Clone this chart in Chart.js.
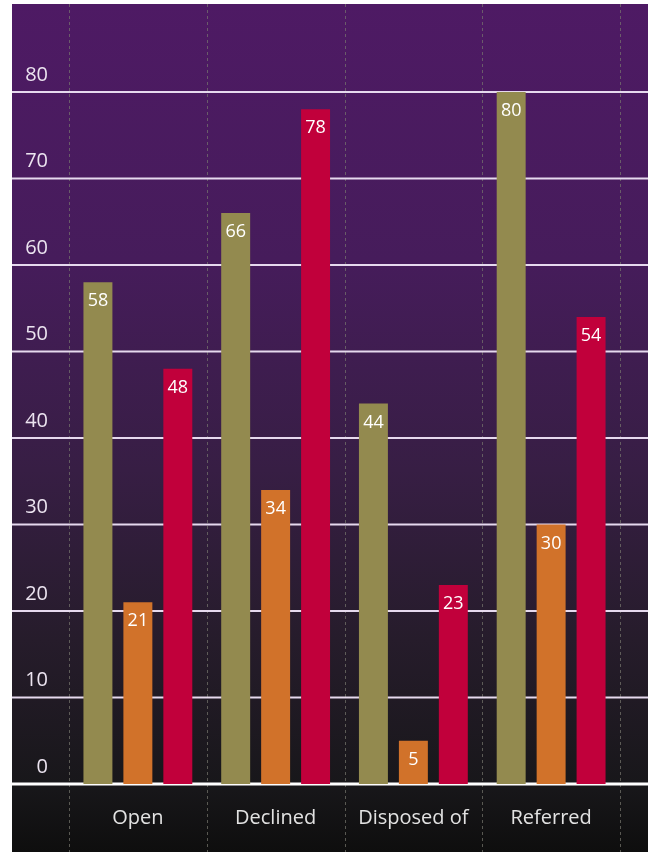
<!DOCTYPE html>
<html>
<head>
<meta charset="utf-8">
<script src="https://cdn.jsdelivr.net/npm/chart.js@4.4.1/dist/chart.umd.min.js"></script>
<style>
  html, body { margin:0; padding:0; background:#fff; }
  #chart { display:block; }
</style>
</head>
<body>
<canvas id="chart" width="652" height="852"></canvas>
<script>
document.addEventListener('DOMContentLoaded', () => {

  // ----- DATA -----
  const categories = ['Open', 'Declined', 'Disposed of', 'Referred'];
  const seriesA = [58, 66, 44, 80];
  const seriesB = [21, 34, 5, 30];
  const seriesC = [48, 78, 23, 54];
  const yTicks = [0, 10, 20, 30, 40, 50, 60, 70, 80];

  const colors = ['#938a4f', '#d1722a', '#c1003b'];
  const FONT = '"Open Sans", "Noto Sans", sans-serif';

  // ----- BACKGROUND + GRID -----
  const backdrop = {
    id: 'backdrop',
    beforeDraw(chart) {
      const ctx = chart.ctx;
      const g = ctx.createLinearGradient(0, 4, 0, 852);
      g.addColorStop(0, '#4e1a64');
      g.addColorStop(0.3, '#461c5b');
      g.addColorStop(0.55, '#371e44');
      g.addColorStop(0.75, '#261c2b');
      g.addColorStop(0.92, '#18171a');
      g.addColorStop(1, '#0e0e0e');
      ctx.save();
      ctx.fillStyle = g;
      ctx.fillRect(12, 4, 636, 848);
      ctx.restore();
    },
    beforeDatasetsDraw(chart) {
      const ctx = chart.ctx;
      const x = chart.scales.x, y = chart.scales.y;
      ctx.save();
      // vertical dotted separators
      const step = x.getPixelForValue(1) - x.getPixelForValue(0);
      ctx.strokeStyle = 'rgba(120,120,110,0.7)';
      ctx.lineWidth = 1;
      ctx.setLineDash([3, 3]);
      for (let i = 0; i <= categories.length; i++) {
        const px = Math.round(x.getPixelForValue(0) - step / 2 + i * step) + 0.5;
        ctx.beginPath();
        ctx.moveTo(px, 4);
        ctx.lineTo(px, 852);
        ctx.stroke();
      }
      ctx.setLineDash([]);
      // horizontal grid lines
      yTicks.forEach(v => {
        const py = y.getPixelForValue(v);
        ctx.strokeStyle = v === 0 ? '#ffffff' : '#e6d9ee';
        ctx.lineWidth = v === 0 ? 3 : 2;
        ctx.beginPath();
        ctx.moveTo(12, py);
        ctx.lineTo(648, py);
        ctx.stroke();
      });
      ctx.restore();
    },
    afterDatasetsDraw(chart) {
      const ctx = chart.ctx;
      ctx.save();
      ctx.fillStyle = '#ffffff';
      ctx.font = '18px ' + FONT;
      ctx.textAlign = 'center';
      ctx.textBaseline = 'middle';
      chart.data.datasets.forEach((ds, di) => {
        chart.getDatasetMeta(di).data.forEach((bar, i) => {
          ctx.fillText(String(ds.data[i]), bar.x, bar.y + 19);
        });
      });
      ctx.restore();
    }
  };

  new Chart(document.getElementById('chart'), {
    type: 'bar',
    data: {
      labels: categories,
      datasets: [
        { data: seriesA, backgroundColor: colors[0] },
        { data: seriesB, backgroundColor: colors[1] },
        { data: seriesC, backgroundColor: colors[2] }
      ]
    },
    options: {
      responsive: false,
      animation: false,
      devicePixelRatio: 1,
      categoryPercentage: 0.87,
      barPercentage: 0.725,
      layout: { padding: { left: 12, right: 32, top: 92, bottom: 0 } },
      plugins: { legend: { display: false }, tooltip: { enabled: false } },
      scales: {
        x: {
          offset: true,
          grid: { display: false },
          border: { display: false },
          ticks: { color: '#e2e2e2', font: { family: FONT, size: 20 }, padding: 14 },
          afterFit(scale) { scale.height = 68; }
        },
        y: {
          min: 0,
          max: 80,
          grid: { display: false },
          border: { display: false },
          afterBuildTicks(scale) { scale.ticks = yTicks.map(v => ({ value: v })); },
          ticks: { color: '#ece4f0', font: { family: FONT, size: 20 }, padding: 13, labelOffset: -17 },
          afterFit(scale) { scale.width = 57; }
        }
      }
    },
    plugins: [backdrop]
  });

});
</script>
</body>
</html>
